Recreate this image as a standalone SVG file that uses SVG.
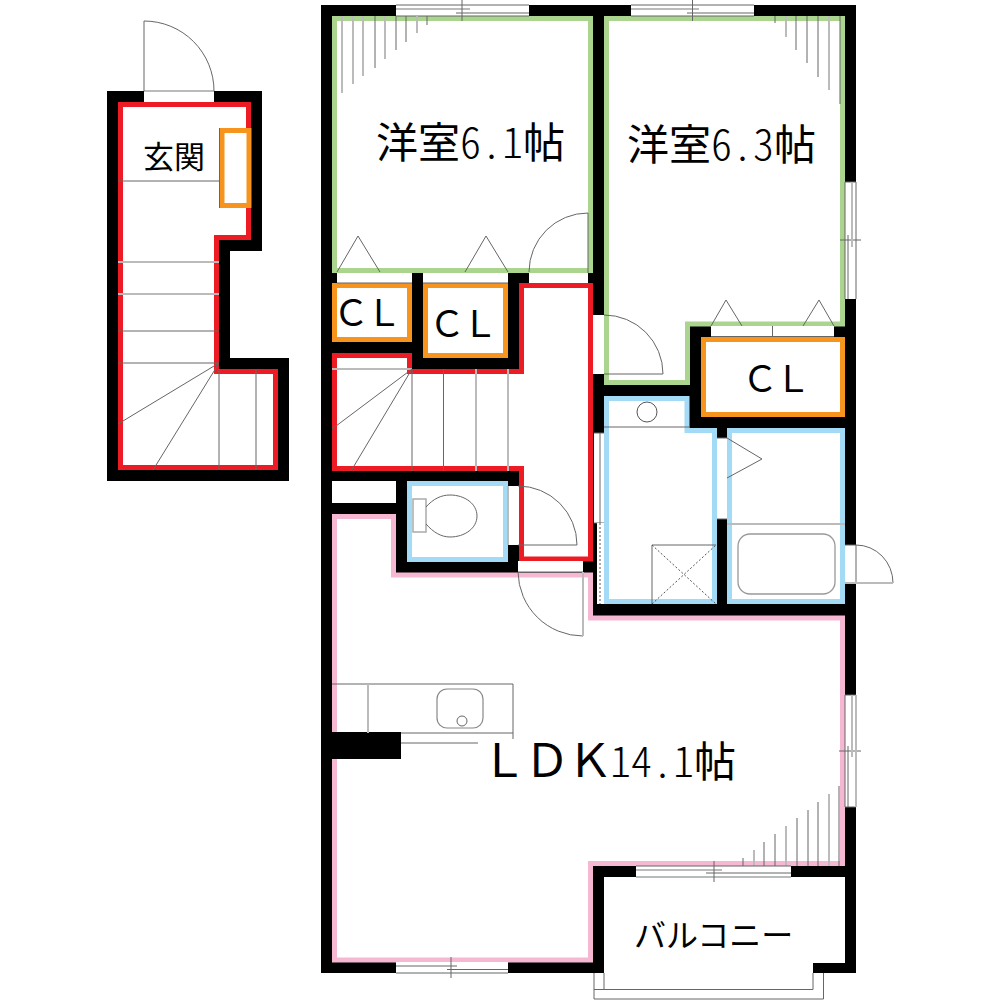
<svg xmlns="http://www.w3.org/2000/svg" width="1000" height="1000" viewBox="0 0 1000 1000">
<style>
.wall{fill:#000}
.room{fill:#fff;stroke-width:5;stroke-linejoin:miter}
.red{stroke:#ed1c24}.green{stroke:#abd48e}.orange{stroke:#f7941d}.blue{stroke:#a3daf6}.pink{stroke:#f6b7d2}
.open{fill:#fff;stroke:none}
.d{fill:none;stroke:#666;stroke-width:1}
.g{fill:none;stroke:#bbb;stroke-width:2}
.dash{fill:none;stroke:#555;stroke-width:1;stroke-dasharray:2 2}
text{font-family:"Noto Sans CJK JP","Noto Sans",sans-serif;fill:#000}
.hw{font-feature-settings:"hwid";font-weight:300}
.big{font-size:42px}.cl{font-size:36px;letter-spacing:-3px}.bal{font-size:32px}
.ldk{font-size:46px;letter-spacing:-3px}
</style>
<rect width="1000" height="1000" fill="#fff"/>
<g id="walls">
<path class="wall" d="M107 91H262V251H230V358H289V481H107Z"/>
<path class="wall" d="M321 5H856V973H813V963H845V877H604V973H321Z"/>
</g>
<g id="entrance">
<path class="room red" d="M120.500 104.500H248.500V237.500H216.500V371.500H275.500V467.500H120.500Z"/>
<rect class="room orange" x="222" y="130.500" width="27" height="75"/>
<path class="d" d="M219.500 128V208M118 181H219M118 331H219M118 363H219M219 363L118 424M219 363L153 470M219 369V470M256 369V470"/>
<path class="g" d="M118 262H219M118 294H219"/>
<rect class="open" x="144" y="91" width="70" height="11"/>
<path class="g" d="M144 91H214"/>
<path class="d" d="M144 91V21A70 70 0 0 1 214 91"/>
<text x="143" y="168" font-size="31">玄関</text>
</g>
<g id="room-6-1">
<rect class="room green" x="334.500" y="18.500" width="256" height="252"/>
<rect class="open" x="396" y="5" width="133" height="11"/>
<path class="g" d="M396 9H470M342 16V93M353 16V84M363 16V76M385 16V59"/>
<path class="d" d="M396 5H529M396 16H529M456 13H529M462 0V21M375 16V68M396 16V50M406 16V42M427 16V25"/>
<path class="g" d="M417 16V33"/>
<path class="d" d="M337 272L358 236L380 272M465 272L486 236L508 272M588 273V213A59 59 0 0 0 529 272"/>
<rect class="open" x="337" y="273" width="75" height="10"/>
<rect class="open" x="423" y="273" width="85" height="10"/>
<rect class="open" x="529" y="273" width="59" height="10"/>
<text class="big" x="376" y="158">洋室<tspan class="hw">6.1</tspan>帖</text>
</g>
<g id="room-6-3">
<path class="room green" d="M606.500 18.500H842.500V324H687.500V382.500H606.500Z"/>
<rect class="open" x="631" y="5" width="123" height="11"/>
<path class="g" d="M631 9H699M786 16V37M829 16V90"/>
<path class="d" d="M631 5H754M631 16H754M687 13H754M692.500 0V21M775 16V23M796 16V50M807 16V63M818 16V77M840 16V104"/>
<rect class="open" x="845" y="182" width="11" height="117"/>
<path class="d" d="M845 182V299M848 235V299M840 240H861M856 182V299M845 182H856"/>
<path class="g" d="M852 182V247"/>
<path class="d" d="M711 326L726 300L742 326M803 326L819 300L834 326"/>
<rect class="open" x="593" y="315" width="11" height="59"/>
<path class="d" d="M604 315A59 59 0 0 1 663 374H604"/>
<text class="big" x="627" y="160">洋室<tspan class="hw">6.3</tspan>帖</text>
</g>
<g id="closet-1">
<rect class="room orange" x="334.500" y="285.500" width="75" height="54"/>
<text class="cl" x="333" y="326">ＣＬ</text>
</g>
<g id="closet-2">
<rect class="room orange" x="425.500" y="285.500" width="80" height="70"/>
<text class="cl" x="429" y="337">ＣＬ</text>
</g>
<g id="closet-3">
<rect class="room orange" x="703.500" y="339.500" width="139" height="75"/>
<rect class="open" x="711" y="326" width="123" height="11"/>
<path class="d" d="M772.500 326V337M711 336.500H834"/>
<text class="cl" x="742" y="392">ＣＬ</text>
</g>
<g id="hall-stairs">
<path class="room red" d="M334.500 355.500H409.500V371.500H521.500V285.500H590.500V559H521.500V468.500H334.500Z"/>
<path class="g" d="M332 369H412M476 369V471M508 369V471"/>
<path class="d" d="M412 369L332 429M412 369L351 471M412 369V471M443.500 369V471"/>
<path class="d" d="M337 283H412M423 283H508"/>
<rect class="open" x="332" y="481" width="64" height="22"/>
</g>
<g id="toilet">
<rect class="room blue" x="409.500" y="483.500" width="96" height="76"/>
<rect x="413" y="499" width="13" height="33" fill="#fff" stroke="#aaa" stroke-width="1.500"/>
<path class="d" d="M426 507C433 499 441 495 450 495C465 495 477 504 477 516C477 528 465 537 450 537C441 537 433 532 426 524"/>
<rect class="open" x="508" y="486" width="11" height="59"/>
<path class="g" d="M508 486V545"/>
<path class="d" d="M518 486A59 59 0 0 1 577 545H518"/>
</g>
<g id="ldk">
<path class="room pink" d="M334.500 516.500H393.500V575H590.500V618H842.500V863.500H590.500V960H334.500Z"/>
<rect class="wall" x="321" y="732" width="80" height="27"/>
<rect class="open" x="518" y="561" width="65" height="11"/>
<path class="d" d="M518 572H583M518 572A65 65 0 0 0 583 636"/>
<path class="g" d="M583 572V636"/>
<path class="d" d="M332 684H513V739M401 733H513M401 743H478"/>
<path class="g" d="M368 684V733"/>
<rect x="437" y="689" width="46" height="39" rx="10" fill="none" stroke="#888" stroke-width="1.200"/>
<circle cx="462" cy="721" r="5" fill="none" stroke="#666"/>
<rect class="open" x="396" y="962" width="112" height="11"/>
<path class="d" d="M396 966H457M447 969.500H508M451 957V978M396 973H508"/>
<rect class="open" x="845" y="695" width="11" height="112"/>
<path class="d" d="M845 695V807M848 746V807M839 751H861M845 695H856M845 807H856"/>
<path class="g" d="M852 695V757M856 695V807"/>
<path class="d" d="M743 866V858M764 866V842M775 866V834M797 866V818M808 866V810M818 866V802M839 866V786"/>
<path class="g" d="M754 866V850M786 866V826M829 866V794"/>
<text class="big" x="481" y="777"><tspan class="ldk">ＬＤＫ</tspan><tspan class="hw">14.1</tspan>帖</text>
</g>
<g id="washroom">
<path class="room blue" d="M606.500 398.500H687V430.500H714.500V601.500H606.500Z"/>
<circle cx="647" cy="412" r="10" fill="none" stroke="#555"/>
<path class="d" d="M604 427H689M652 604V545H716"/>
<path class="dash" d="M652 545L716 604M652 604L716 545"/>
<rect class="open" x="594" y="433" width="10" height="90"/>
<path class="d" d="M594 433H604M600 433V523M594 523H604"/>
<rect class="open" x="597" y="523" width="7" height="81"/>
<path class="dash" d="M600 523V604"/>
<rect class="open" x="717" y="438" width="10" height="81"/>
<path class="d" d="M717 438H727M717 519H727"/>
</g>
<g id="bath">
<rect class="room blue" x="729.500" y="430.500" width="113" height="171"/>
<path class="d" d="M727 438L762 459L727 478"/>
<path class="g" d="M727 524H845"/>
<rect x="738" y="534" width="97" height="60" rx="12" fill="none" stroke="#999" stroke-width="1.300"/>
<rect class="open" x="845" y="545" width="11" height="38"/>
<path class="d" d="M856 545V583M845 545H856M856 545A37 38 0 0 1 893 583"/>
<path class="g" d="M845 583H893"/>
</g>
<g id="balcony">
<rect class="open" x="636" y="866" width="155" height="11"/>
<path class="g" d="M636 870H722M636 877H791"/>
<path class="d" d="M636 866H791M706 873H791M714 861V882M594 973V999H823.500V973M604 973V989.500M594 989.500H813V973"/>
<text class="bal" x="634" y="947">バルコニー</text>
</g>
</svg>
